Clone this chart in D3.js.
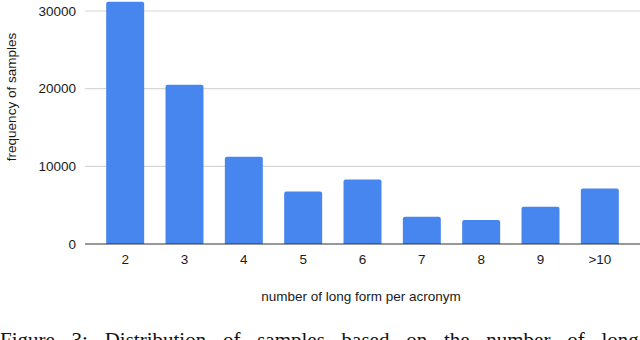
<!DOCTYPE html>
<html>
<head>
<meta charset="utf-8">
<script src="https://cdn.jsdelivr.net/npm/d3@7"></script>
<style>
  html, body { margin: 0; padding: 0; background: #fff; }
  svg { display: block; }
</style>
</head>
<body>
<svg id="chart" width="640" height="340"></svg>
<script>
const categories = ["2", "3", "4", "5", "6", "7", "8", "9", ">10"];
const values = [31200, 20500, 11250, 6750, 8300, 3500, 3100, 4800, 7150];
const yTicks = [0, 10000, 20000, 30000];
const xTitle = "number of long form per acronym";
const yTitle = "frequency of samples";
const caption = "Figure 3: Distribution of samples based on the number of long forms";

const svg = d3.select("#chart");
const plotLeft = 85, plotRight = 640, plotTop = 11, plotBottom = 244;
const sans = "Liberation Sans, Arial, Helvetica, sans-serif";

const x = d3.scaleBand()
  .domain(categories)
  .range([95.5, 629.5])
  .paddingInner(0.36)
  .paddingOuter(0.18);

const y = d3.scaleLinear()
  .domain([0, 30000])
  .range([plotBottom, plotTop]);

// gridlines
svg.append("g")
  .selectAll("line")
  .data(yTicks.filter(d => d > 0))
  .join("line")
  .attr("x1", plotLeft).attr("x2", plotRight)
  .attr("y1", d => y(d)).attr("y2", d => y(d))
  .attr("stroke", "#d6d6d6").attr("stroke-width", 1.2);

// bars with slightly rounded top corners
const r = 2;
svg.append("g")
  .selectAll("path")
  .data(values)
  .join("path")
  .attr("fill", "#4686ee")
  .attr("d", (d, i) => {
    const x0 = x(categories[i]), w = x.bandwidth();
    const y0 = y(d), y1 = y(0);
    return `M${x0},${y1} L${x0},${y0 + r} Q${x0},${y0} ${x0 + r},${y0} L${x0 + w - r},${y0} Q${x0 + w},${y0} ${x0 + w},${y0 + r} L${x0 + w},${y1} Z`;
  });

// baseline
svg.append("line")
  .attr("x1", plotLeft).attr("x2", plotRight)
  .attr("y1", y(0)).attr("y2", y(0))
  .attr("stroke", "#333").attr("stroke-width", 1.2);

// y tick labels
svg.append("g")
  .selectAll("text")
  .data(yTicks)
  .join("text")
  .attr("x", 76)
  .attr("y", d => y(d))
  .attr("dy", "0.35em")
  .attr("text-anchor", "end")
  .attr("font-family", sans)
  .attr("font-size", 13.5)
  .attr("fill", "#1a1a1a")
  .text(d => d);

// x tick labels
svg.append("g")
  .selectAll("text")
  .data(categories)
  .join("text")
  .attr("x", d => x(d) + x.bandwidth() / 2)
  .attr("y", 259)
  .attr("dy", "0.35em")
  .attr("text-anchor", "middle")
  .attr("font-family", sans)
  .attr("font-size", 13.5)
  .attr("fill", "#1a1a1a")
  .text(d => d);

// axis titles
svg.append("text")
  .attr("x", 361).attr("y", 296)
  .attr("dy", "0.35em")
  .attr("text-anchor", "middle")
  .attr("font-family", sans)
  .attr("font-size", 13.5)
  .attr("fill", "#1a1a1a")
  .text(xTitle);

svg.append("text")
  .attr("transform", "translate(11,97) rotate(-90)")
  .attr("dy", "0.35em")
  .attr("text-anchor", "middle")
  .attr("font-family", sans)
  .attr("font-size", 13.5)
  .attr("fill", "#1a1a1a")
  .text(yTitle);

// caption (cut off at the bottom edge, as in the source)
svg.append("text")
  .attr("x", 0).attr("y", 347)
  .attr("font-family", "Liberation Serif, Times New Roman, serif")
  .attr("font-size", 21)
  .attr("word-spacing", 11.5)
  .attr("fill", "#111")
  .text(caption);
</script>
</body>
</html>
